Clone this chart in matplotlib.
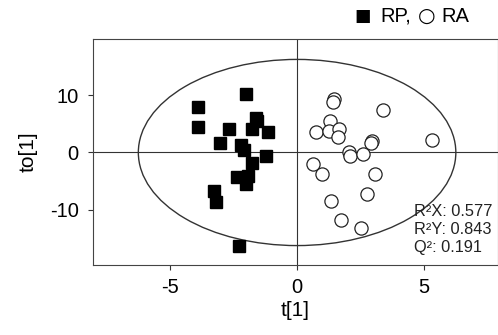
import matplotlib
matplotlib.use("Agg")
import matplotlib.pyplot as plt
from matplotlib.patches import Ellipse

plt.rcParams['font.family'] = ['Liberation Sans', 'DejaVu Sans']
plt.rcParams['axes.unicode_minus'] = False

# RP group (filled squares)
rp_t = [-2.0, -3.92, -3.92, -2.68, -1.61, -1.56, -1.77, -1.13, -3.03, -2.20,
        -2.09, -1.23, -1.77, -2.37, -1.92, -2.02, -3.27, -3.19, -2.27]
rp_to = [10.2, 8.0, 4.5, 4.2, 6.1, 5.5, 4.1, 3.6, 1.6, 1.3,
         0.4, -0.6, -1.8, -4.3, -4.2, -5.6, -6.8, -8.7, -16.4]

# RA group (open circles)
ra_t = [1.46, 1.43, 3.37, 1.30, 0.74, 1.27, 1.64, 1.60, 2.93, 2.90, 5.33,
        2.03, 2.10, 2.60, 0.62, 1.00, 3.07, 2.74, 1.33, 1.72, 2.52]
ra_to = [9.35, 8.9, 7.4, 5.5, 3.6, 3.7, 4.1, 2.7, 2.0, 1.6, 2.2,
         0.05, -0.65, -0.3, -2.05, -3.7, -3.8, -7.2, -8.5, -11.9, -13.2]

# Hotelling T2 ellipse
ell_w, ell_h = 12.5, 32.6

stats = ["R\u00b2X: 0.577", "R\u00b2Y: 0.843", "Q\u00b2: 0.191"]

fig = plt.figure(figsize=(4.98, 3.35), dpi=100)
ax = fig.add_axes([0.187, 0.209, 0.813, 0.675])

ax.axhline(0, color='#333333', lw=0.8, zorder=1)
ax.axvline(0, color='#333333', lw=0.8, zorder=1)
ax.add_patch(Ellipse((0, 0), ell_w, ell_h, fill=False, edgecolor='#333333', lw=1.0, zorder=2))

ax.plot(rp_t, rp_to, 's', color='black', markersize=8, zorder=3)
ax.plot(ra_t, ra_to, 'o', markerfacecolor='white', markeredgecolor='#222222',
        markeredgewidth=0.9, markersize=9.5, zorder=3)

ax.set_xlim(-8.03, 7.91)
ax.set_ylim(-19.7, 19.9)
ax.set_xticks([-5, 0, 5])
ax.set_yticks([-10, 0, 10])
ax.tick_params(labelsize=14.5, length=3.5, width=0.8, color='#333333', pad=6,
               top=False, right=False)
ax.tick_params(axis='y', pad=7)
for s in ax.spines.values():
    s.set_color('#444444')
    s.set_linewidth(0.8)

ax.set_xlabel('t[1]', fontsize=15, labelpad=3)
ax.set_ylabel('to[1]', fontsize=15, labelpad=9)

for i, s in enumerate(stats):
    ax.text(0.793, 0.236 - i * 0.08, s, transform=ax.transAxes, fontsize=11.8,
            color='#222222', va='center', ha='left')

# group key at top right
ky = 0.952
fig.text(354 / 498, ky, '\u25a0', fontsize=12.5, ha='left', va='center', family='DejaVu Sans')
fig.text(380 / 498, ky, 'RP,', fontsize=14.5, ha='left', va='center')
fig.text(418 / 498, ky, '\u25cb', fontsize=14.5, ha='left', va='center', family='DejaVu Sans')
fig.text(441 / 498, ky, 'RA', fontsize=14.5, ha='left', va='center')

fig.savefig('out.png', dpi=100)
